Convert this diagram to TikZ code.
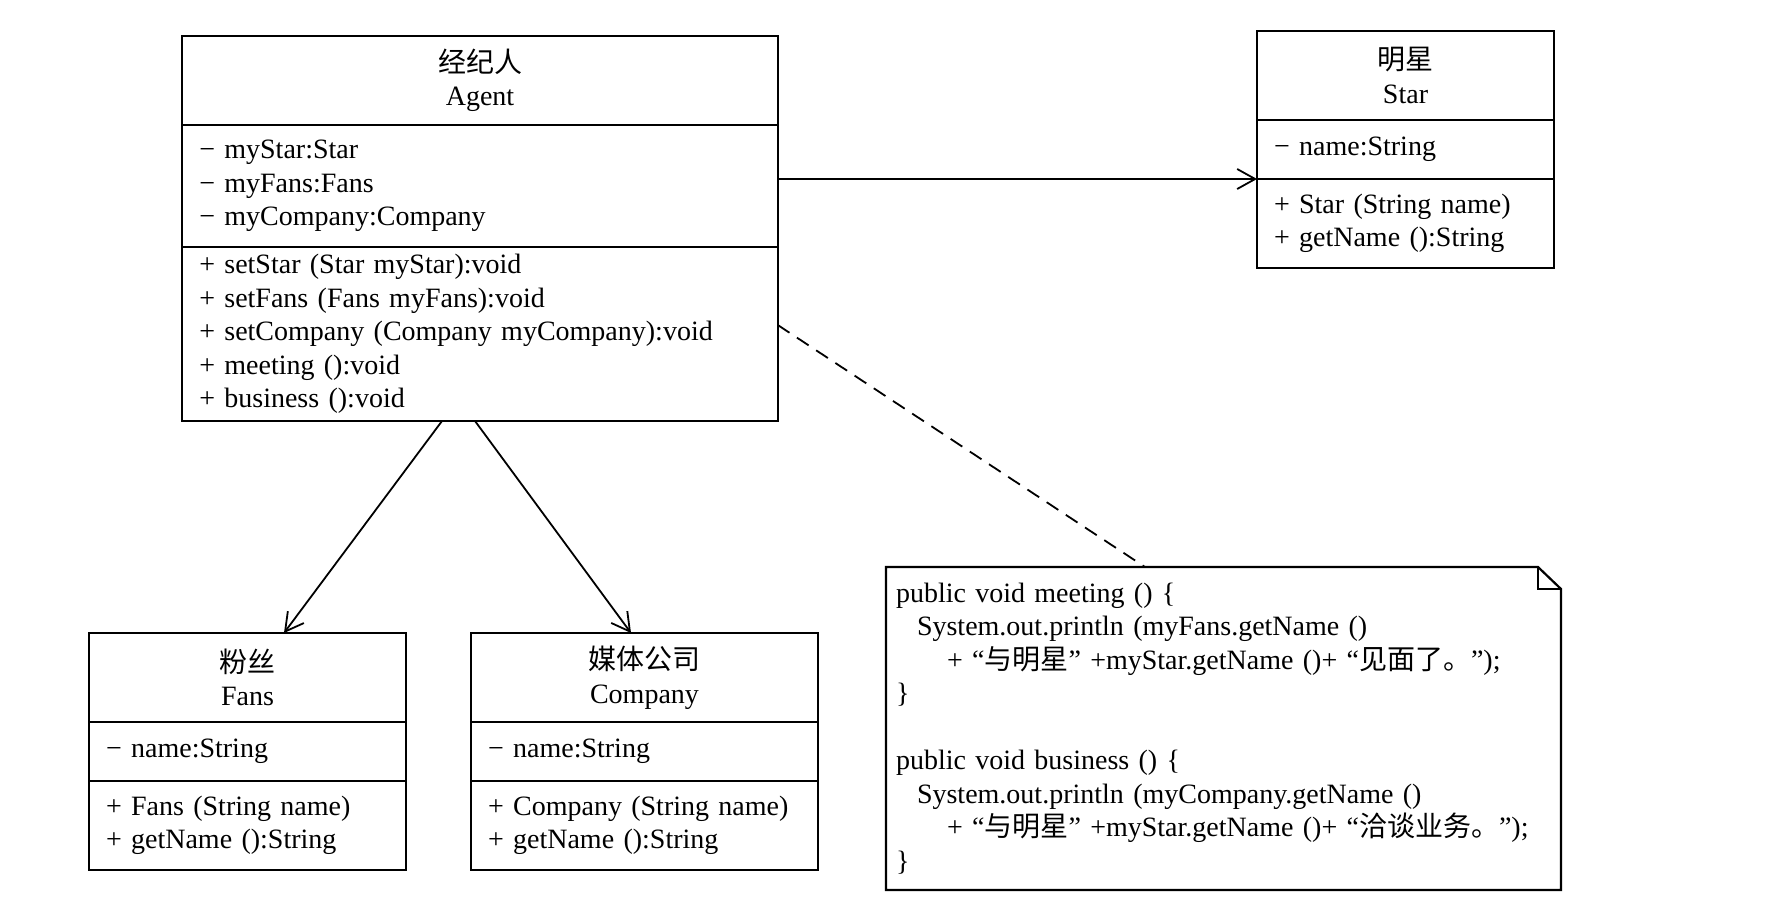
\documentclass[tikz,border=0pt]{standalone}
\usepackage{fontspec}
\setmainfont{Liberation Serif}
\newfontfamily\cjk{Noto Sans CJK SC}
\usetikzlibrary{positioning,arrows.meta}

\begin{document}
\begin{tikzpicture}[x=1pt,y=-1pt]
    \tikzstyle{every node}=[font=\fontsize{28}{33.5}\selectfont, inner sep=0pt, outer sep=0pt]
    \tikzstyle{classhead}=[draw, line width=2.2pt, minimum height=89pt, align=center]
    \tikzstyle{classpart}=[draw, line width=2.2pt, align=left, inner xsep=17pt]
    \tikzstyle{assoc}=[line width=1.8pt, -{Straight Barb[length=18pt,width=20pt]}]
    \useasboundingbox (0,0) rectangle (1766,916);

    \node[classhead, minimum width=595.5pt, anchor=north] (agenth) at (480,36) {{\cjk 经纪人}\\Agent};
    \node[classpart, text width=561.5pt, minimum height=122pt, below=0pt of agenth] (agenta)
        {− myStar:Star\\− myFans:Fans\\− myCompany:Company};
    \node[classpart, text width=561.5pt, minimum height=174pt, below=0pt of agenta] (agentm)
        {+ setStar (Star myStar):void\\
         + setFans (Fans myFans):void\\
         + setCompany (Company myCompany):void\\
         + meeting ():void\\
         + business ():void};

    \node[classhead, minimum width=297pt, anchor=north] (starh) at (1405.5,31) {{\cjk 明星}\\Star};
    \node[classpart, text width=263pt, minimum height=59pt, below=0pt of starh] (stara)
        {− name:String};
    \node[classpart, text width=263pt, minimum height=89pt, below=0pt of stara] (starm)
        {+ Star (String name)\\+ getName ():String};

    \node[classhead, minimum width=317pt, anchor=north] (fansh) at (247.5,633) {{\cjk 粉丝}\\Fans};
    \node[classpart, text width=283pt, minimum height=59pt, below=0pt of fansh] (fansa)
        {− name:String};
    \node[classpart, text width=283pt, minimum height=89pt, below=0pt of fansa] (fansm)
        {+ Fans (String name)\\+ getName ():String};

    \node[classhead, minimum width=347pt, anchor=north] (companyh) at (644.5,633) {{\cjk 媒体公司}\\Company};
    \node[classpart, text width=313pt, minimum height=59pt, below=0pt of companyh] (companya)
        {− name:String};
    \node[classpart, text width=313pt, minimum height=89pt, below=0pt of companya] (companym)
        {+ Company (String name)\\+ getName ():String};

    \node[minimum width=675pt, minimum height=323pt, text width=655pt, align=left, inner xsep=10pt] (note) at (1223.5,728.5)
        {public void meeting () \{\\
         \hspace*{21pt}System.out.println (myFans.getName ()\\
         \hspace*{51pt}\mbox{+ “{\cjk 与明星}” +myStar.getName ()+ “{\cjk 见面了。}”);}\\
         \}\\[33.5pt]
         public void business () \{\\
         \hspace*{21pt}System.out.println (myCompany.getName ()\\
         \hspace*{51pt}\mbox{+ “{\cjk 与明星}” +myStar.getName ()+ “{\cjk 洽谈业务。}”);}\\
         \}};
    \draw[line width=2.2pt] (note.north west) -- ([xshift=-23pt]note.north east) -- ([yshift=-22pt]note.north east)
        -- (note.south east) -- (note.south west) -- cycle;
    \draw[line width=1.8pt] ([xshift=-23pt]note.north east) |- ([yshift=-22pt]note.north east);

    \draw[assoc] (agenta.east |- starm.north west) -- (starm.north west);
    \draw[assoc] ([xshift=-38pt]agentm.south) -- ([xshift=36.5pt]fansh.north);
    \draw[assoc] ([xshift=-5pt]agentm.south) -- ([xshift=-13.5pt]companyh.north);
    \draw[line width=1.8pt, dash pattern=on 14pt off 9pt] ([yshift=9pt]agentm.east) -- ([xshift=-78.5pt]note.north);
\end{tikzpicture}
\end{document}
